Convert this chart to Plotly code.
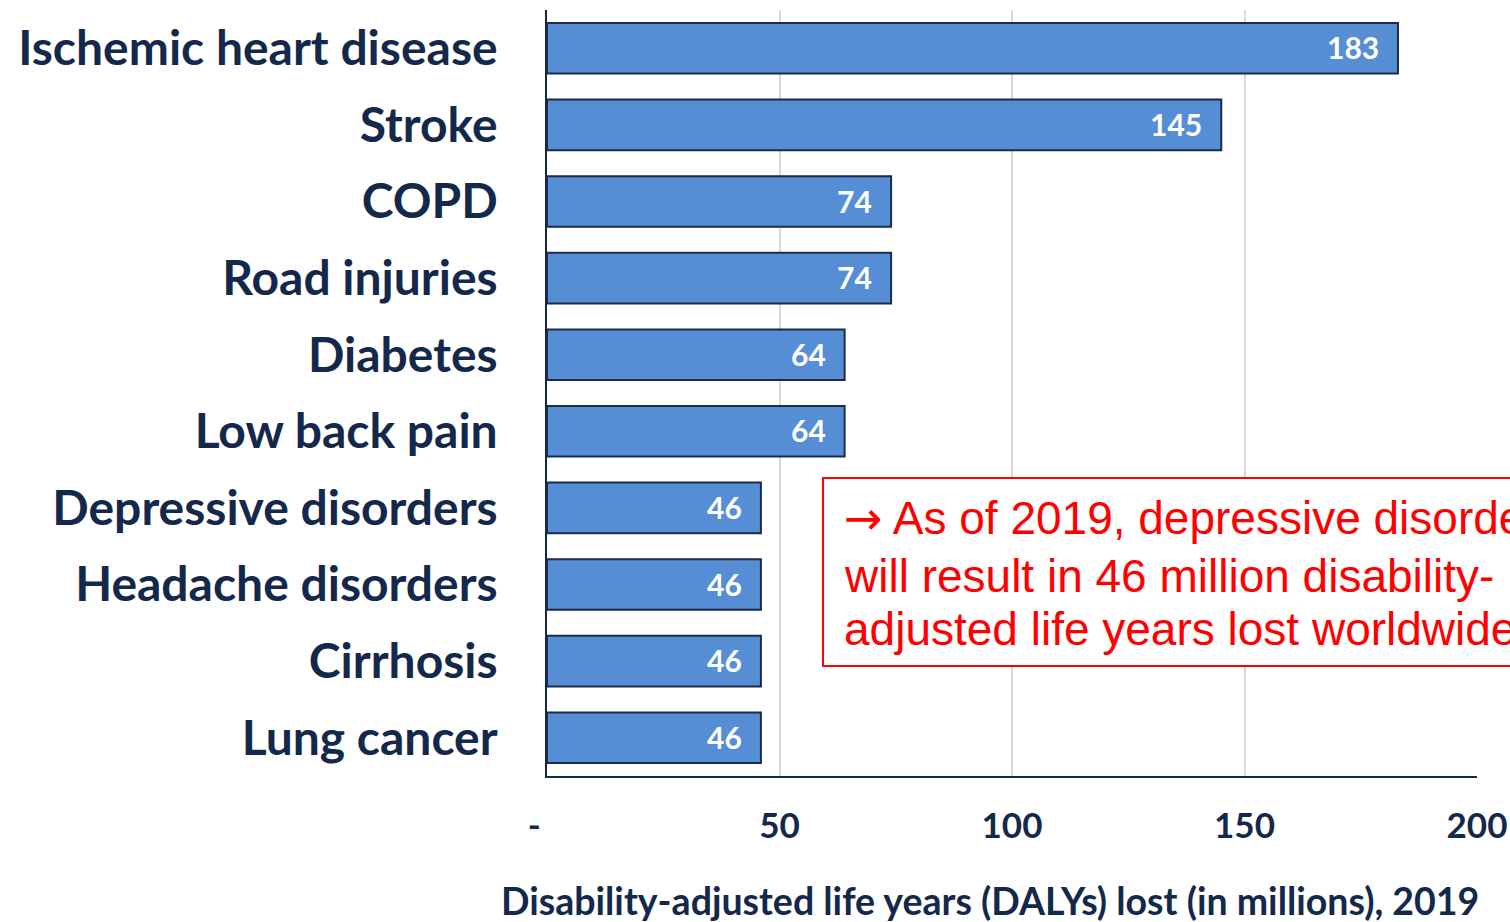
import plotly.graph_objects as go

# Leading causes of disease burden, 2019
causes = [
    "Ischemic heart disease", "Stroke", "COPD", "Road injuries", "Diabetes",
    "Low back pain", "Depressive disorders", "Headache disorders",
    "Cirrhosis", "Lung cancer",
]
dalys_millions = [183, 145, 74, 74, 64, 64, 46, 46, 46, 46]

x_tick_values = [0, 50, 100, 150, 200]
x_tick_labels = ["-&nbsp;&nbsp;&nbsp;", "50", "100", "150", "200"]

axis_title = "Disability-adjusted life years (DALYs) lost (in millions), 2019"
note_lines = [
    "<span style=\"font-family:'DejaVu Sans'\">→</span> As of 2019, depressive disorders",
    "will result in 46 million disability-",
    "adjusted life years lost worldwide",
]

NAVY = "#14284B"
RED = "#FF0000"
LABEL_FONT = "Lato, 'Open Sans', sans-serif"

fig = go.Figure()
fig.add_trace(go.Bar(
    x=dalys_millions,
    y=causes,
    orientation="h",
    width=0.66,
    marker=dict(color="#558ED5", line=dict(color="#1B2B48", width=2)),
    hoverinfo="x+y",
))

# value labels inside the bar ends
for cause, val in zip(causes, dalys_millions):
    fig.add_annotation(
        x=val, y=cause, xref="x", yref="y",
        text=str(val), showarrow=False,
        xanchor="right", yanchor="middle", xshift=-17, yshift=1,
        font=dict(family=LABEL_FONT, size=30, color="white", weight="bold"),
    )

# callout box with three lines of text
fig.add_shape(
    type="rect", xref="paper", yref="paper",
    x0=0.2968, x1=1.12, y0=0.1436, y1=0.389,
    line=dict(color=RED, width=2), fillcolor="white", layer="above",
)
for line_text, ypos in zip(note_lines, [0.3368, 0.2611, 0.1919]):
    fig.add_annotation(
        x=0.3172, y=ypos, xref="paper", yref="paper",
        xanchor="left", yanchor="middle",
        text=line_text, showarrow=False, align="left",
        font=dict(family="'Liberation Sans', Arial, sans-serif", size=46, color=RED),
    )

# x-axis title
fig.add_annotation(
    x=0.476, y=-0.163, xref="paper", yref="paper",
    text=axis_title, showarrow=False,
    xanchor="center", yanchor="middle",
    font=dict(family=LABEL_FONT, size=37.5, color=NAVY, weight="bold"),
)

fig.update_layout(
    width=1510, height=922,
    margin=dict(l=547, r=33, t=10, b=146),
    paper_bgcolor="white", plot_bgcolor="white",
    showlegend=False,
    bargap=0.34,
    xaxis=dict(
        range=[0, 200], automargin=False,
        tickmode="array", tickvals=x_tick_values, ticktext=x_tick_labels,
        showgrid=True, gridcolor="#D9D9D9", gridwidth=2,
        zeroline=False,
        showline=True, linecolor=NAVY, linewidth=2,
        ticks="", ticklabelstandoff=18,
        tickfont=dict(family=LABEL_FONT, size=35, color=NAVY, weight="bold"),
    ),
    yaxis=dict(
        autorange="reversed", automargin=False,
        showgrid=False, zeroline=False,
        showline=True, linecolor=NAVY, linewidth=1.5,
        ticks="", ticklabelstandoff=38,
        tickfont=dict(family=LABEL_FONT, size=48, color=NAVY, weight="bold"),
    ),
)

fig.write_html("out.html")
